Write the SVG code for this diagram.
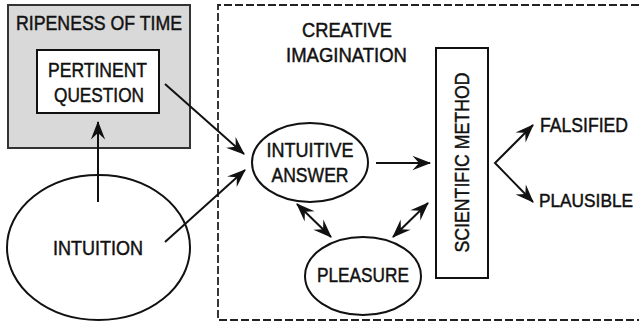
<svg xmlns="http://www.w3.org/2000/svg" width="639" height="322" viewBox="0 0 639 322">
  <style>
    .lbl { font-family: "Liberation Sans", Arial, sans-serif; font-size: 19.5px; fill: #111; text-anchor: middle; stroke: #111; stroke-width: 0.45; }
    .left { text-anchor: start; }
    .shape { fill: #fff; stroke: #111; stroke-width: 2; }
    .link { fill: none; stroke: #111; stroke-width: 2; }
  </style>
  <defs>
    <marker id="head" markerUnits="userSpaceOnUse" markerWidth="22" markerHeight="20" refX="0" refY="0" viewBox="-18 -8 20 16" orient="auto-start-reverse">
      <path d="M1,0 L-16,-6.5 L-10,0 L-16,6.5 Z" fill="#111"/>
    </marker>
  </defs>

  <rect width="639" height="322" fill="#fff"/>

  <!-- creative imagination frame, open past the right edge -->
  <g id="creative-imagination">
    <path d="M639,5 H218 V320 H639" fill="none" stroke="#222" stroke-width="1.8" stroke-dasharray="8 3"/>
    <text class="lbl" x="347" y="37" textLength="90" lengthAdjust="spacingAndGlyphs">CREATIVE</text>
    <text class="lbl" x="346.5" y="62" textLength="121" lengthAdjust="spacingAndGlyphs">IMAGINATION</text>
  </g>

  <!-- ripeness of time -->
  <g id="ripeness-of-time">
    <rect x="8" y="5" width="182" height="143" fill="#d9d9d9" stroke="#333" stroke-width="2"/>
    <text class="lbl" x="99" y="30" textLength="166" lengthAdjust="spacingAndGlyphs">RIPENESS OF TIME</text>
  </g>

  <g id="pertinent-question">
    <rect class="shape" x="37" y="50" width="122" height="63"/>
    <text class="lbl" x="97.5" y="77" textLength="99" lengthAdjust="spacingAndGlyphs">PERTINENT</text>
    <text class="lbl" x="99" y="102" textLength="90" lengthAdjust="spacingAndGlyphs">QUESTION</text>
  </g>

  <g id="intuition">
    <ellipse class="shape" cx="98.5" cy="247.5" rx="91.5" ry="72.5"/>
    <text class="lbl" x="98" y="255" textLength="90" lengthAdjust="spacingAndGlyphs">INTUITION</text>
  </g>

  <g id="intuitive-answer">
    <ellipse class="shape" cx="310" cy="162.5" rx="58" ry="39.5"/>
    <text class="lbl" x="310" y="157" textLength="87" lengthAdjust="spacingAndGlyphs">INTUITIVE</text>
    <text class="lbl" x="310" y="182" textLength="77" lengthAdjust="spacingAndGlyphs">ANSWER</text>
  </g>

  <g id="pleasure">
    <ellipse class="shape" cx="363" cy="276" rx="58" ry="39"/>
    <text class="lbl" x="363" y="282" textLength="92" lengthAdjust="spacingAndGlyphs">PLEASURE</text>
  </g>

  <g id="scientific-method">
    <rect class="shape" x="436" y="48" width="52" height="230"/>
    <text class="lbl" transform="translate(469 162.5) rotate(-90)" x="0" y="0" style="font-size:20.5px" textLength="180" lengthAdjust="spacingAndGlyphs">SCIENTIFIC METHOD</text>
  </g>

  <g id="falsified">
    <text class="lbl left" x="540" y="132" textLength="88" lengthAdjust="spacingAndGlyphs">FALSIFIED</text>
  </g>

  <g id="plausible">
    <text class="lbl left" transform="translate(539 207) scale(1 1.1)" x="0" y="0" style="font-size:17.5px" textLength="94" lengthAdjust="spacingAndGlyphs">PLAUSIBLE</text>
  </g>

  <!-- connectors -->
  <g id="connectors">
    <line class="link" x1="98" y1="202" x2="98" y2="122" marker-end="url(#head)"/>
    <line class="link" x1="165" y1="84" x2="244" y2="154" marker-end="url(#head)"/>
    <line class="link" x1="165" y1="242" x2="245" y2="170" marker-end="url(#head)"/>
    <line class="link" x1="376" y1="163" x2="430" y2="163" marker-end="url(#head)"/>
    <line class="link" x1="297" y1="204" x2="331" y2="237" marker-start="url(#head)" marker-end="url(#head)"/>
    <line class="link" x1="393" y1="237" x2="428" y2="203" marker-start="url(#head)" marker-end="url(#head)"/>
    <polyline class="link" points="533,125 495,163 533,202" marker-start="url(#head)" marker-end="url(#head)"/>
  </g>
</svg>
